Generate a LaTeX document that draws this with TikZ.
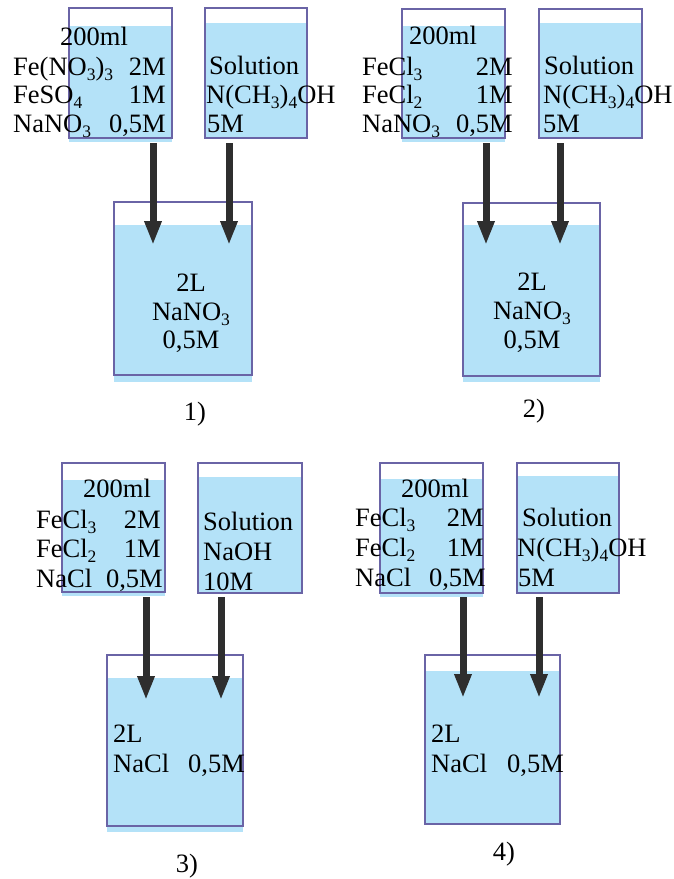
\documentclass[tikz,border=0pt]{standalone}
\usepackage{fontspec}
\setmainfont{Liberation Serif}
\usetikzlibrary{arrows.meta,fit}
\definecolor{water}{HTML}{B4E2F8}
\definecolor{rimc}{HTML}{6A64A6}
\definecolor{arrc}{HTML}{2E2E2E}
\newcommand\subs[1]{\raisebox{-5.5pt}{\fontsize{17.5}{17.5}\selectfont #1}}
\tikzset{
  txt/.style={inner sep=0pt, font=\fontsize{26.5}{29}\selectfont},
  tl/.style={txt, anchor=base west},
  tr/.style={txt, anchor=base east},
  tc/.style={txt, anchor=base},
  rim/.style={draw=rimc, line width=1.6pt, inner sep=0pt},
  flow/.style={draw=arrc, line width=7pt, -{Triangle[width=16pt,length=24pt]}, shorten >=0pt}
}
% name, x1, y1, x2, y2, filltop, fillbottom
\newcommand\beaker[7]{%
  \fill[water] (#2,#6) rectangle (#4,#7);
  \node[rim, fit={(#2,#3) (#4,#5)}] (#1) {};
}
\begin{document}
\begin{tikzpicture}[x=1pt,y=-1pt]
\useasboundingbox (0,0) rectangle (673,879);
% ---------- Panel 1 ----------
\beaker{p1a}{69}{8}{172}{138}{26}{142}
\beaker{p1b}{205}{8}{307}{138}{23}{138}
\beaker{p1c}{114}{202}{252}{375}{225}{382}
\node[tl] (t1a) at (60,45) {200ml};
\node[tl] (t1b) at (13,75) {Fe(NO\subs{3})\subs{3}};
\node[tr] (t1c) at (166,75) {2M};
\node[tl] (t1d) at (13,103) {FeSO\subs{4}};
\node[tr] (t1e) at (166,103) {1M};
\node[tl] (t1f) at (13,132) {NaNO\subs{3}};
\node[tr] (t1g) at (166,132) {0,5M};
\node[tl] (t1h) at (209,74) {Solution};
\node[tl] (t1i) at (206,103) {N(CH\subs{3})\subs{4}OH};
\node[tl] (t1j) at (207,132) {5M};
\node[tc] (t1k) at (191,291) {2L};
\node[tc] (t1l) at (191,320) {NaNO\subs{3}};
\node[tc] (t1m) at (191,348) {0,5M};
\node[tc] (l1) at (195,420) {1)};
\coordinate (a1s) at (153,143); \coordinate (a1e) at (153,245);
\coordinate (b1s) at (229,143); \coordinate (b1e) at (229,245);
\draw[flow] (a1s) -- (a1e);
\draw[flow] (b1s) -- (b1e);
% ---------- Panel 2 ----------
\beaker{p2a}{402}{9}{505}{138}{26}{142}
\beaker{p2b}{539}{9}{642}{138}{23}{138}
\beaker{p2c}{463}{203}{600}{376}{225}{382}
\node[tl] (t2a) at (409,44) {200ml};
\node[tl] (t2b) at (362,75) {FeCl\subs{3}};
\node[tr] (t2c) at (513,75) {2M};
\node[tl] (t2d) at (362,103) {FeCl\subs{2}};
\node[tr] (t2e) at (513,103) {1M};
\node[tl] (t2f) at (362,132) {NaNO\subs{3}};
\node[tr] (t2g) at (513,132) {0,5M};
\node[tl] (t2h) at (544,74) {Solution};
\node[tl] (t2i) at (543,103) {N(CH\subs{3})\subs{4}OH};
\node[tl] (t2j) at (543,132) {5M};
\node[tc] (t2k) at (532,290) {2L};
\node[tc] (t2l) at (532,319) {NaNO\subs{3}};
\node[tc] (t2m) at (532,348) {0,5M};
\node[tc] (l2) at (534,417) {2)};
\coordinate (a2s) at (486,143); \coordinate (a2e) at (486,245);
\coordinate (b2s) at (560,143); \coordinate (b2e) at (560,245);
\draw[flow] (a2s) -- (a2e);
\draw[flow] (b2s) -- (b2e);
% ---------- Panel 3 ----------
\beaker{p3a}{62}{463}{165}{592}{480}{596}
\beaker{p3b}{198}{463}{302}{593}{477}{593}
\beaker{p3c}{107}{655}{243}{826}{678}{832}
\node[tl] (t3a) at (83,497) {200ml};
\node[tl] (t3b) at (36,528) {FeCl\subs{3}};
\node[tr] (t3c) at (161,528) {2M};
\node[tl] (t3d) at (36,557) {FeCl\subs{2}};
\node[tr] (t3e) at (161,557) {1M};
\node[tl] (t3f) at (36,587) {NaCl};
\node[tr] (t3g) at (163,587) {0,5M};
\node[tl] (t3h) at (203,530) {Solution};
\node[tl] (t3i) at (203,560) {NaOH};
\node[tl] (t3j) at (203,590) {10M};
\node[tl] (t3k) at (113,742) {2L};
\node[tl] (t3l) at (113,772) {NaCl};
\node[tl] (t3m) at (188,772) {0,5M};
\node[tc] (l3) at (187,872) {3)};
\coordinate (a3s) at (146,597); \coordinate (a3e) at (146,700);
\coordinate (b3s) at (221,597); \coordinate (b3e) at (221,700);
\draw[flow] (a3s) -- (a3e);
\draw[flow] (b3s) -- (b3e);
% ---------- Panel 4 ----------
\beaker{p4a}{380}{463}{483}{593}{479}{597}
\beaker{p4b}{517}{463}{619}{593}{476}{593}
\beaker{p4c}{425}{655}{560}{824}{671}{824}
\node[tl] (t4a) at (401,497) {200ml};
\node[tl] (t4b) at (355,526) {FeCl\subs{3}};
\node[tr] (t4c) at (484,526) {2M};
\node[tl] (t4d) at (355,556) {FeCl\subs{2}};
\node[tr] (t4e) at (484,556) {1M};
\node[tl] (t4f) at (355,586) {NaCl};
\node[tr] (t4g) at (486,586) {0,5M};
\node[tl] (t4h) at (522,526) {Solution};
\node[tl] (t4i) at (517,556) {N(CH\subs{3})\subs{4}OH};
\node[tl] (t4j) at (518,586) {5M};
\node[tl] (t4k) at (431,742) {2L};
\node[tl] (t4l) at (431,772) {NaCl};
\node[tl] (t4m) at (507,772) {0,5M};
\node[tc] (l4) at (504,860) {4)};
\coordinate (a4s) at (463,597); \coordinate (a4e) at (463,698);
\coordinate (b4s) at (539,597); \coordinate (b4e) at (539,698);
\draw[flow] (a4s) -- (a4e);
\draw[flow] (b4s) -- (b4e);
\end{tikzpicture}
\end{document}
